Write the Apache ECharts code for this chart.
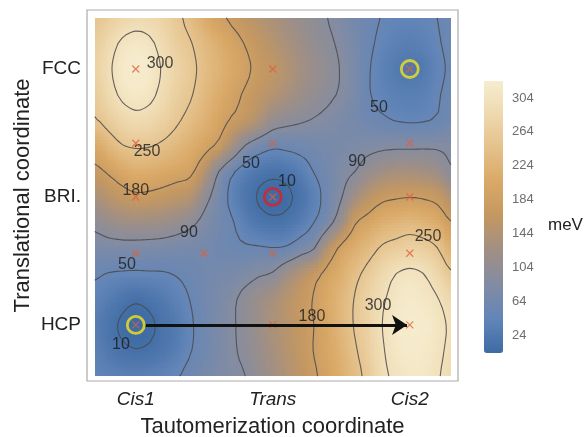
<!DOCTYPE html>
<html><head><meta charset="utf-8">
<script src="https://cdn.jsdelivr.net/npm/echarts@6/dist/echarts.min.js"></script>
<style>html,body{margin:0;padding:0;background:#fff}#c{width:586px;height:437px}</style>
</head><body><div id="c"></div>
<script>
// ---- axes / ticks ----
const xTickValues = [0, 1, 2];
const xTickLabels = ['Cis1', 'Trans', 'Cis2'];
const yTickValues = [0, 0.5, 1];
const yTickLabels = ['HCP', 'BRI.', 'FCC'];
const colorbarTicks = [24, 64, 104, 144, 184, 224, 264, 304];
const contourLevels = [10, 50, 90, 180, 250, 300];

// ---- energy grid (meV) ----
const gridX = [-0.3,-0.2,-0.1,0,0.1,0.2,0.3,0.4,0.5,0.6,0.7,0.8,0.9,1.0,1.1,1.2,1.3,1.4,1.5,1.6,1.7,1.8,1.9,2.0,2.1,2.2,2.3];
const gridY = [1.2,1.1,1.0,0.9,0.8,0.7,0.6,0.5,0.4,0.3,0.2,0.1,0.0,-0.1,-0.2];
const row_y120 = [250,266,280,288,285,275,258,238,212,190,174,160,148,136,124,112,100,90,78,66,56,49,45,43,45,50,56];
const row_y110 = [265,285,305,312,306,287,266,252,232,214,196,178,162,148,134,120,106,96,84,70,55,44,36,33,37,47,56];
const row_y100 = [272,294,315,322,316,296,276,258,240,222,204,187,170,158,144,128,113,102,88,72,52,38,28,23,27,42,54];
const row_y090 = [262,285,306,314,308,289,268,253,232,212,193,175,160,146,132,118,106,96,86,72,52,43,36,34,37,47,58];
const row_y080 = [247,264,280,289,284,272,255,238,220,198,176,160,138,110,100,94,88,82,74,68,60,54,49,47,48,53,62];
const row_y070 = [205,228,248,254,252,243,230,214,195,172,130,88,68,56,58,62,66,70,72,76,80,83,84,84,85,85,83];
const row_y060 = [170,185,202,214,212,205,197,188,148,93,57,35,22,17,20,32,51,64,80,90,110,122,130,130,126,118,95];
const row_y050 = [135,150,163,172,170,164,155,145,105,72,42,21,8,3,6,17,37,63,88,125,152,170,176,179,176,167,142];
const row_y040 = [100,112,120,122,121,118,110,98,80,66,53,34,21,16,19,31,50,75,118,176,196,215,224,230,223,210,182];
const row_y030 = [74,76,77,77,76,74,71,69,67,62,57,54,53,51,54,70,88,144,190,213,234,255,264,271,266,251,218];
const row_y020 = [54,49,47,46,47,48,52,58,63,67,71,77,86,93,118,142,165,192,215,240,262,283,300,306,300,282,255];
const row_y010 = [40,30,19,13,18,27,38,51,62,73,84,100,115,130,148,165,182,205,228,252,276,296,310,316,312,302,285];
const row_y000 = [32,18,7,3,6,17,28,47,60,74,86,100,117,135,150,165,180,203,228,253,275,300,315,322,320,310,296];
const row_ym10 = [36,24,15,11,14,22,33,49,60,73,85,98,114,130,146,163,181,200,222,246,270,297,312,318,316,307,294];
const row_ym20 = [42,37,34,33,35,40,48,58,68,76,83,90,108,125,142,158,175,194,215,238,262,293,305,312,312,303,290];
const energyRows = [row_y120,row_y110,row_y100,row_y090,row_y080,row_y070,row_y060,row_y050,row_y040,row_y030,row_y020,row_y010,row_y000,row_ym10,row_ym20];

// ---- annotations ----
const samplePoints = [[0,1],[1,1],[2,1],[0,0.71],[1,0.71],[2,0.71],[0,0.5],[1,0.5],[2,0.5],[0,0.28],[0.5,0.28],[1,0.28],[2,0.28],[0,0],[1,0],[2,0]];
const yellowMarks = [[0,0],[2,1]];
const redMarks = [[1,0.5]];
const arrowPath = [[0.07,0],[1.98,0]];
const contourLabels = [
  [0.177,1.02,300],[0.082,0.676,250],[0.0,0.523,180],[0.388,0.359,90],[-0.064,0.234,50],[-0.108,-0.078,10],
  [0.841,0.629,50],[1.104,0.559,10],[1.615,0.637,90],[1.775,0.848,50],[2.133,0.344,250],[1.768,0.074,300],[1.286,0.031,180]
];

// ---- colours ----
const colorStops = ['#3e6ba4','#6285b8','#828ca3','#a08f84','#c39762','#d9a866','#e4c089','#eed8ad','#f6edcf'];
const vMin = 3, vMax = 324;
const stopRGB = colorStops.map(h => [parseInt(h.slice(1,3),16), parseInt(h.slice(3,5),16), parseInt(h.slice(5,7),16)]);
function colorOf(v){
  let t = (v - vMin) / (vMax - vMin); t = Math.max(0, Math.min(1, t));
  const n = stopRGB.length, f = t * (n - 1), k = Math.min(n - 2, Math.floor(f)), u = f - k;
  const a = stopRGB[k], b = stopRGB[k+1];
  return 'rgb(' + Math.round(a[0]+(b[0]-a[0])*u) + ',' + Math.round(a[1]+(b[1]-a[1])*u) + ',' + Math.round(a[2]+(b[2]-a[2])*u) + ')';
}

const NR = energyRows.length, NC = gridX.length;
function V(i, j){ i = Math.max(0, Math.min(NC-1, i)); j = Math.max(0, Math.min(NR-1, j)); return energyRows[j][i]; }
function cr(p0,p1,p2,p3,t){ return p1 + 0.5*t*(p2-p0 + t*(2*p0-5*p1+4*p2-p3 + t*(3*(p1-p2)+p3-p0))); }
function shade(i, j, u, v){
  const r = [];
  for (let k = -1; k <= 2; k++) r.push(cr(V(i-1,j+k), V(i,j+k), V(i+1,j+k), V(i+2,j+k), u));
  return cr(r[0], r[1], r[2], r[3], v);
}

// nodes of the grid as series data
const nodeData = [];
for (let j = 0; j < NR; j++) for (let i = 0; i < NC; i++) nodeData.push([gridX[i], gridY[j], energyRows[j][i]]);

const SX = 5, SY = 9;
function renderCell(params, api){
  const idx = params.dataIndex, i = idx % NC, j = Math.floor(idx / NC);
  if (i >= NC-1 || j >= NR-1) return null;
  const p0 = api.coord([gridX[i], gridY[j]]), p1 = api.coord([gridX[i+1], gridY[j+1]]);
  const w = (p1[0]-p0[0]) / SX, h = (p1[1]-p0[1]) / SY;
  const children = [];
  for (let a = 0; a < SX; a++) {
    const xa = Math.round(p0[0] + a*w), xb = Math.round(p0[0] + (a+1)*w);
    for (let b = 0; b < SY; b++) {
      const ya = Math.round(p0[1] + b*h), yb = Math.round(p0[1] + (b+1)*h);
      if (xb <= xa || yb <= ya) continue;
      const val = shade(i, j, (a+0.5)/SX, (b+0.5)/SY);
      children.push({type:'rect', shape:{x:xa, y:ya, width:xb-xa, height:yb-ya}, style:{fill: colorOf(val), stroke:null, lineWidth:0}});
    }
  }
  return {type:'group', children};
}

// ---- contour tracing (marching squares on the same surface used for shading) ----
const RF = 3;
const fineX = [], fineY = [], fineV = [];
for (let k = 0; k <= (NC-1)*RF; k++) { const i = Math.min(NC-2, Math.floor(k/RF)), u = (k - i*RF)/RF; fineX.push(gridX[i] + (gridX[i+1]-gridX[i])*u); }
for (let k = 0; k <= (NR-1)*RF; k++) { const j = Math.min(NR-2, Math.floor(k/RF)), v = (k - j*RF)/RF; fineY.push(gridY[j] + (gridY[j+1]-gridY[j])*v); }
for (let kj = 0; kj <= (NR-1)*RF; kj++) {
  const j = Math.min(NR-2, Math.floor(kj/RF)), v = (kj - j*RF)/RF, row = [];
  for (let ki = 0; ki <= (NC-1)*RF; ki++) { const i = Math.min(NC-2, Math.floor(ki/RF)), u = (ki - i*RF)/RF; row.push(shade(i, j, u, v)); }
  fineV.push(row);
}

function buildContours(xs, ys, vals, level){
  const nr = vals.length, nc = vals[0].length;
  const pts = {}, segs = [], adj = {};
  function ep(key, i1, j1, i2, j2){
    if (!(key in pts)) {
      const v1 = vals[j1][i1], v2 = vals[j2][i2], t = (level - v1) / (v2 - v1);
      pts[key] = [xs[i1] + t*(xs[i2]-xs[i1]), ys[j1] + t*(ys[j2]-ys[j1])];
    }
    return key;
  }
  for (let j = 0; j < nr-1; j++) for (let i = 0; i < nc-1; i++) {
    const a = vals[j][i], b = vals[j][i+1], c = vals[j+1][i+1], d = vals[j+1][i];
    const A = a >= level, B = b >= level, C = c >= level, D = d >= level;
    const e = {};
    if (A !== B) e.t = ep('h'+j+'_'+i, i, j, i+1, j);
    if (B !== C) e.r = ep('v'+j+'_'+(i+1), i+1, j, i+1, j+1);
    if (D !== C) e.b = ep('h'+(j+1)+'_'+i, i, j+1, i+1, j+1);
    if (A !== D) e.l = ep('v'+j+'_'+i, i, j, i, j+1);
    const ks = Object.keys(e);
    if (ks.length === 2) segs.push([e[ks[0]], e[ks[1]]]);
    else if (ks.length === 4) {
      const cen = (a+b+c+d)/4 >= level;
      if (cen === A) { segs.push([e.t, e.r]); segs.push([e.l, e.b]); }
      else { segs.push([e.t, e.l]); segs.push([e.r, e.b]); }
    }
  }
  segs.forEach((s,k) => { (adj[s[0]] = adj[s[0]] || []).push(k); (adj[s[1]] = adj[s[1]] || []).push(k); });
  const used = segs.map(() => false), chains = [];
  function walk(start){
    const ch = [start]; let cur = start;
    for (;;) {
      const nx = (adj[cur] || []).find(k => !used[k]);
      if (nx === undefined) break;
      used[nx] = true; const s = segs[nx]; cur = s[0] === cur ? s[1] : s[0]; ch.push(cur);
    }
    return ch;
  }
  Object.keys(adj).forEach(key => { if (adj[key].length === 1 && !used[adj[key][0]]) chains.push(walk(key)); });
  segs.forEach((s,k) => { if (!used[k]) chains.push(walk(s[0])); });
  return chains.map(ch => ch.map(k => pts[k]));
}

const FONT = 'Liberation Sans, Arial, Helvetica, sans-serif';
const series = [];
series.push({type:'custom', renderItem: renderCell, data: nodeData, silent:true, z:1, animation:false});
contourLevels.forEach(lv => {
  buildContours(fineX, fineY, fineV, lv).forEach(ch => {
    series.push({type:'line', data: ch, symbol:'none', showSymbol:false, smooth:0.2, silent:true, z:2, animation:false,
      lineStyle:{color:'#4a4a4a', width:1.1, opacity:0.85}});
  });
});
series.push({type:'scatter', data: contourLabels, symbol:'circle', symbolSize:1, silent:true, z:3,
  itemStyle:{color:'rgba(0,0,0,0)'},
  label:{show:true, position:'inside', formatter: p => String(p.value[2]), color:'#1a1a1a', fontSize:16, fontFamily:FONT}});
series.push({type:'scatter', data: samplePoints, symbol:'path://M0,0L10,10M10,0L0,10', symbolSize:7, silent:true, z:4,
  itemStyle:{color:'rgba(0,0,0,0)', borderColor:'#e0603a', borderWidth:1.2}});
series.push({type:'lines', coordinateSystem:'cartesian2d', polyline:false, silent:true, z:5,
  data:[{coords: arrowPath}], symbol:['none','arrow'], symbolSize:15,
  lineStyle:{color:'#111', width:3, opacity:1, curveness:0}});
series.push({type:'scatter', data: yellowMarks, symbol:'circle', symbolSize:17, silent:true, z:6,
  itemStyle:{color:'rgba(0,0,0,0)', borderColor:'#f2e31b', borderWidth:2.8}});
series.push({type:'scatter', data: redMarks, symbol:'circle', symbolSize:17, silent:true, z:6,
  itemStyle:{color:'rgba(0,0,0,0)', borderColor:'#dc2027', borderWidth:2.8}});

const chart = echarts.init(document.getElementById('c'), null, {renderer:'canvas'});
function pick(vals, labs, v){ for (let k = 0; k < vals.length; k++) if (Math.abs(vals[k]-v) < 1e-6) return labs[k]; return ''; }
chart.setOption({
  animation:false,
  textStyle:{fontFamily:FONT},
  grid:[
    {left:87, top:10, width:371, height:371, show:true, borderColor:'#ababab', borderWidth:1.2, backgroundColor:'#fff', outerBoundsMode:'none', containLabel:false},
    {left:484, top:81, width:19, height:272, show:false, outerBoundsMode:'none', containLabel:false}
  ],
  xAxis:[
    {type:'value', gridIndex:0, min:-0.356, max:2.352, axisLine:{show:false}, splitLine:{show:false},
     axisTick:{show:true, customValues:xTickValues, length:4, lineStyle:{color:'#999'}},
     axisLabel:{customValues:xTickValues, formatter: v => pick(xTickValues, xTickLabels, v), fontStyle:'italic', fontSize:19, color:'#222', margin:9},
     name:'Tautomerization coordinate', nameLocation:'middle', nameGap:35, nameMoveOverlap:false, nameTextStyle:{fontSize:22, color:'#222'}},
    {type:'value', gridIndex:1, show:false, min:0, max:1}
  ],
  yAxis:[
    {type:'value', gridIndex:0, min:-0.219, max:1.2305, axisLine:{show:false}, splitLine:{show:false},
     axisTick:{show:true, customValues:yTickValues, length:4, lineStyle:{color:'#999'}},
     axisLabel:{customValues:yTickValues, formatter: v => pick(yTickValues, yTickLabels, v), fontSize:19, color:'#222', margin:6},
     name:'Translational coordinate', nameLocation:'middle', nameGap:53, nameMoveOverlap:false, nameTextStyle:{fontSize:22, color:'#222'}},
    {type:'value', gridIndex:1, min:vMin, max:vMax, position:'right', axisLine:{show:false}, splitLine:{show:false},
     axisTick:{show:true, customValues:colorbarTicks, length:4, lineStyle:{color:'#aaa'}},
     axisLabel:{customValues:colorbarTicks, color:'#6e6e6e', fontSize:13, margin:9},
     name:'meV', nameLocation:'middle', nameRotate:0, nameGap:45, nameMoveOverlap:false, nameTextStyle:{fontSize:17, color:'#222', verticalAlign:'top'}}
  ],
  visualMap:{type:'continuous', min:vMin, max:vMax, left:484, top:81, itemWidth:19, itemHeight:272, padding:0,
    calculable:false, hoverLink:false, seriesIndex:[], inRange:{color:colorStops}},
  series: series
});
</script></body></html>
